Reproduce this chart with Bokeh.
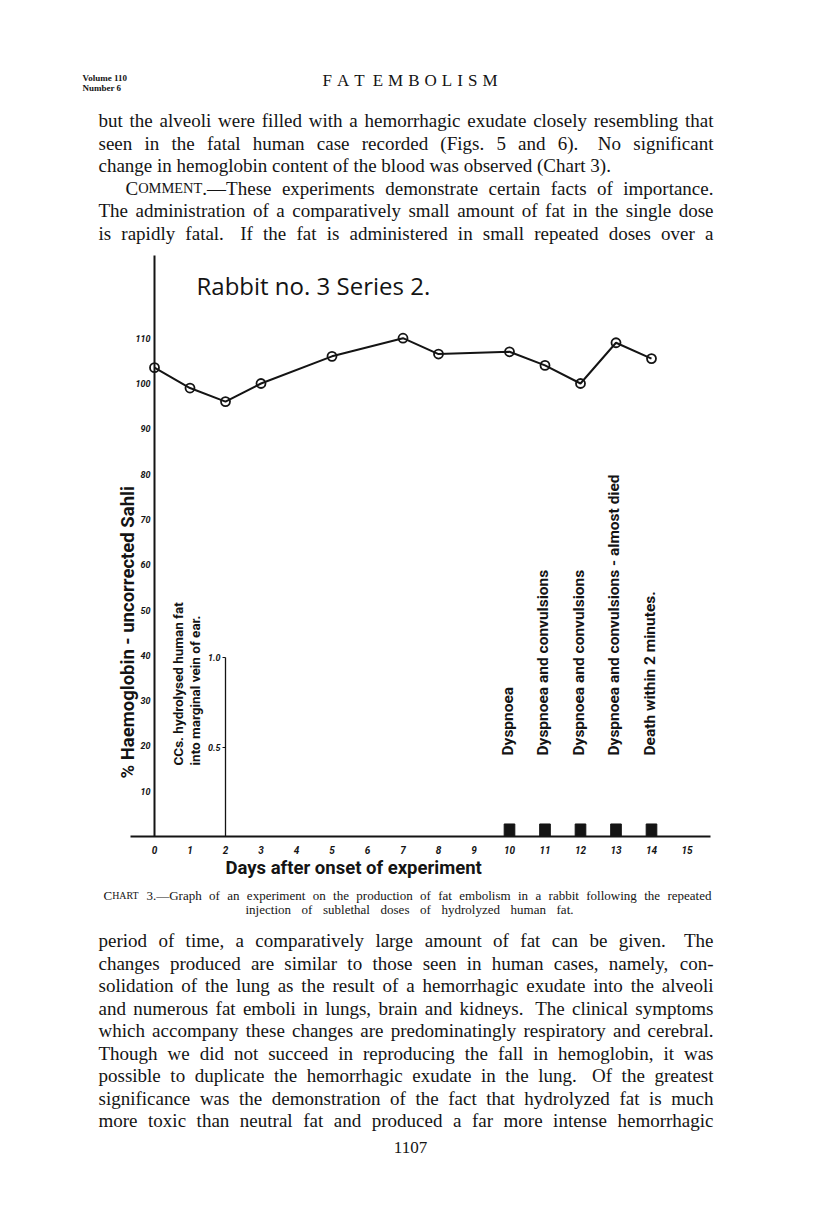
import math
from bokeh.plotting import figure
from bokeh.models import Range1d, LinearAxis, FixedTicker, ColumnDataSource, PrintfTickFormatter
from bokeh.core.properties import value
from bokeh.embed import file_html
from bokeh.resources import INLINE

# ---------------- chart data ----------------
days = [0, 1, 2, 3, 5, 7, 8, 10, 11, 12, 13, 14]
haemoglobin = [103.5, 99, 96, 100, 106, 110, 106.5, 107, 104, 100, 109, 105.5]

single_dose_day = 2
single_dose_cc = 1.0
dose_days = [10, 11, 12, 13, 14]
dose_cc = [0.07, 0.07, 0.07, 0.07, 0.07]

symptom_days = [10, 11, 12, 13, 14]
symptoms = [
    "Dyspnoea",
    "Dyspnoea and convulsions",
    "Dyspnoea and convulsions",
    "Dyspnoea and convulsions - almost died",
    "Death within 2 minutes.",
]

day_ticks = list(range(0, 16))
pct_ticks = [10, 20, 30, 40, 50, 60, 70, 80, 90, 100, 110]
cc_ticks = [0.5, 1.0]

chart_title = "Rabbit no. 3  Series 2."
y_title = "% Haemoglobin - uncorrected Sahli"
x_title = "Days after onset of experiment"
cc_title = ["CCs. hydrolysed human fat", "into marginal vein of ear."]

# ---------------- page text ----------------
header_left = ["Volume 110", "Number 6"]
top_lines = [
    "but the alveoli were filled with a hemorrhagic exudate closely resembling that",
    "seen in the fatal human case recorded (Figs. 5 and 6).  No significant",
    "change in hemoglobin content of the blood was observed (Chart 3).",
    "COMMENT.—These experiments demonstrate certain facts of importance.",
    "The administration of a comparatively small amount of fat in the single dose",
    "is rapidly fatal.  If the fat is administered in small repeated doses over a",
]
top_justify = [True, True, False, True, True, True]
caption_lines = [
    "CHART 3.—Graph of an experiment on the production of fat embolism in a rabbit following the repeated",
    "injection of sublethal doses of hydrolyzed human fat.",
]
bottom_lines = [
    "period of time, a comparatively large amount of fat can be given.  The",
    "changes produced are similar to those seen in human cases, namely, con-",
    "solidation of the lung as the result of a hemorrhagic exudate into the alveoli",
    "and numerous fat emboli in lungs, brain and kidneys.  The clinical symptoms",
    "which accompany these changes are predominatingly respiratory and cerebral.",
    "Though we did not succeed in reproducing the fall in hemoglobin, it was",
    "possible to duplicate the hemorrhagic exudate in the lung.  Of the greatest",
    "significance was the demonstration of the fact that hydrolyzed fat is much",
    "more toxic than neutral fat and produced a far more intense hemorrhagic",
]
page_number = "1107"

# ---------------- geometry (page pixels -> data) ----------------
W, H, M = 800, 1212, 0
X0, PX_DAY = 154.0, 35.5
Y0, PX_PCT, PX_CC = 836.0, 4.53, 179.0


def dx(px):
    return (px - X0) / PX_DAY


def dy(py):
    return (Y0 - py) / PX_PCT


INK = "#141414"

p = figure(width=W, height=H, output_backend="svg", toolbar_location=None,
           x_range=Range1d(dx(M), dx(M + W)), y_range=Range1d(dy(M + H), dy(M)),
           x_axis_type=None, y_axis_type=None, min_border=0,
           min_border_left=0, min_border_right=0, min_border_top=0, min_border_bottom=0)
p.outline_line_color = None
p.background_fill_color = "white"
p.border_fill_color = "white"
p.extra_y_ranges = {"cc": Range1d((Y0 - (M + H)) / PX_CC, (Y0 - M) / PX_CC)}

TICKFONT = "Roboto"

xaxis = LinearAxis(fixed_location=0, bounds=(dx(130), dx(710)),
                   ticker=FixedTicker(ticks=day_ticks),
                   axis_line_width=2, axis_line_color=INK,
                   major_tick_line_color=None, minor_tick_line_color=None,
                   major_tick_out=0, major_tick_in=0,
                   major_label_text_font=TICKFONT, major_label_text_font_size="10px",
                   major_label_text_font_style="bold italic", major_label_text_color=INK,
                   major_label_standoff=9)
p.add_layout(xaxis, "below")

yaxis = LinearAxis(fixed_location=0, bounds=(0, dy(255)),
                   ticker=FixedTicker(ticks=pct_ticks),
                   axis_line_width=2, axis_line_color=INK,
                   major_tick_line_color=None, minor_tick_line_color=None,
                   major_tick_out=0, major_tick_in=0,
                   major_label_text_font=TICKFONT, major_label_text_font_size="9px",
                   major_label_text_font_style="bold italic", major_label_text_color=INK,
                   major_label_standoff=4)
p.add_layout(yaxis, "left")

ccaxis = LinearAxis(y_range_name="cc", fixed_location=single_dose_day,
                    bounds=(0, single_dose_cc),
                    ticker=FixedTicker(ticks=cc_ticks),
                    formatter=PrintfTickFormatter(format="%.1f"),
                    axis_line_width=1.3, axis_line_color=INK,
                    major_tick_line_color=INK, major_tick_line_width=1,
                    minor_tick_line_color=None,
                    major_tick_out=3, major_tick_in=0,
                    major_label_text_font=TICKFONT, major_label_text_font_size="9px",
                    major_label_text_font_style="bold italic", major_label_text_color=INK,
                    major_label_standoff=2)
p.add_layout(ccaxis, "left")

# doses on days 10-14
p.vbar(x=dose_days, top=dose_cc, bottom=0, width=0.3, y_range_name="cc",
       fill_color=INK, line_color=INK)

# haemoglobin curve
p.line(days, haemoglobin, line_width=2, line_color=INK)
p.scatter(days, haemoglobin, marker="circle", size=9, fill_color=None,
          line_color=INK, line_width=1.8)

# hand lettering
p.text(x=[dx(196)], y=[dy(285)], text=[chart_title], text_font=value("Open Sans"),
       text_font_size="24px", text_color=INK, text_align="left", text_baseline="alphabetic")
p.text(x=[dx(127)], y=[dy(778)], text=[y_title], angle=math.pi / 2,
       text_font=value("Roboto"), text_font_style="bold", text_font_size="18.5px",
       text_color=INK, text_align="left", text_baseline="middle")
p.text(x=[dx(225)], y=[dy(867)], text=[x_title],
       text_font=value("Roboto"), text_font_style="bold", text_font_size="18.5px",
       text_color=INK, text_align="left", text_baseline="middle")
p.text(x=[dx(177), dx(194)], y=[dy(765), dy(765)], text=cc_title, angle=math.pi / 2,
       text_font=value("Roboto"), text_font_style="bold", text_font_size="13.5px",
       text_color=INK, text_align="left", text_baseline="middle")
p.text(x=[d - 0.05 for d in symptom_days], y=[dy(755)] * len(symptom_days), text=symptoms,
       angle=math.pi / 2, text_font=value("Roboto"), text_font_style="bold",
       text_font_size="15.5px", text_color=INK, text_align="left", text_baseline="middle")

# ---------------- justified serif page text ----------------
TW = {' ': 250, '!': 333, '"': 408, '%': 833, '&': 778, "'": 333, '(': 333, ')': 333,
      ',': 250, '-': 333, '.': 250, '/': 278, ':': 278, ';': 278, '?': 444, '—': 1000}
for ch in "0123456789":
    TW[ch] = 500
for ch, w in zip("ABCDEFGHIJKLMNOPQRSTUVWXYZ",
                 [722, 667, 667, 722, 611, 556, 722, 722, 333, 389, 722, 611, 889, 722, 722,
                  556, 722, 667, 556, 611, 722, 722, 944, 722, 722, 611]):
    TW[ch] = w
for ch, w in zip("abcdefghijklmnopqrstuvwxyz",
                 [444, 500, 444, 500, 444, 333, 500, 500, 278, 278, 500, 278, 778, 500, 500,
                  500, 500, 333, 389, 278, 500, 500, 722, 500, 500, 444]):
    TW[ch] = w

SMALLCAPS = {
    "COMMENT.—These": [("C", 1.0), ("OMMENT", 0.76), (".—These", 1.0)],
    "CHART": [("C", 1.0), ("HART", 0.76)],
}

tx, ty, tt, ts = [], [], [], []


def seg_width(s, size):
    return sum(TW.get(c, 500) for c in s) * size / 1000.0


def place_line(line, x0, x1, base, size, justify=True):
    words, gaps, extra = [], [], 0.0
    for tok in line.split(" "):
        if tok == "":
            extra += 0.6
            continue
        if words:
            gaps.append(1.0 + extra)
        extra = 0.0
        words.append(tok)
    segs = [SMALLCAPS.get(w, [(w, 1.0)]) for w in words]
    widths = [sum(seg_width(s, size * k) for s, k in sg) for sg in segs]
    if justify and gaps:
        unit = (x1 - x0 - sum(widths)) / sum(gaps)
    else:
        unit = 250 * size / 1000.0
    x = x0
    for i, sg in enumerate(segs):
        for s, k in sg:
            tx.append(dx(x)); ty.append(dy(base)); tt.append(s)
            ts.append("%.2fpx" % (size * k))
            x += seg_width(s, size * k)
        if i < len(gaps):
            x += unit * gaps[i]


BODY = 19
LEFT, RIGHT = 98, 713
for i, (ln, j) in enumerate(zip(top_lines, top_justify)):
    x0 = LEFT + 27 if ln.startswith("COMMENT") else LEFT
    place_line(ln, x0, RIGHT, 120 + i * 22.6, BODY, j)

place_line(caption_lines[0], 103, 711, 895, 13, True)
place_line(caption_lines[1], 245, 573, 909, 13, True)

for i, ln in enumerate(bottom_lines):
    place_line(ln, LEFT, RIGHT, 940 + i * 22.5, BODY, True)

place_line("F A T  E M B O L I S M", 322, 497, 80, 17, True)

src = ColumnDataSource(dict(x=tx, y=ty, text=tt, size=ts))
p.text(x="x", y="y", text="text", text_font_size="size", source=src,
       text_font=value("Liberation Serif"), text_color=INK,
       text_align="left", text_baseline="alphabetic")

p.text(x=[dx(82), dx(82)], y=[dy(77), dy(87)], text=header_left,
       text_font=value("Liberation Serif"), text_font_style="bold", text_font_size="9px",
       text_color=INK, text_align="left", text_baseline="alphabetic")
p.text(x=[dx(410)], y=[dy(1147)], text=[page_number],
       text_font=value("Liberation Serif"), text_font_size="17px",
       text_color=INK, text_align="center", text_baseline="alphabetic")

open("out.html", "w").write(file_html(p, INLINE))
